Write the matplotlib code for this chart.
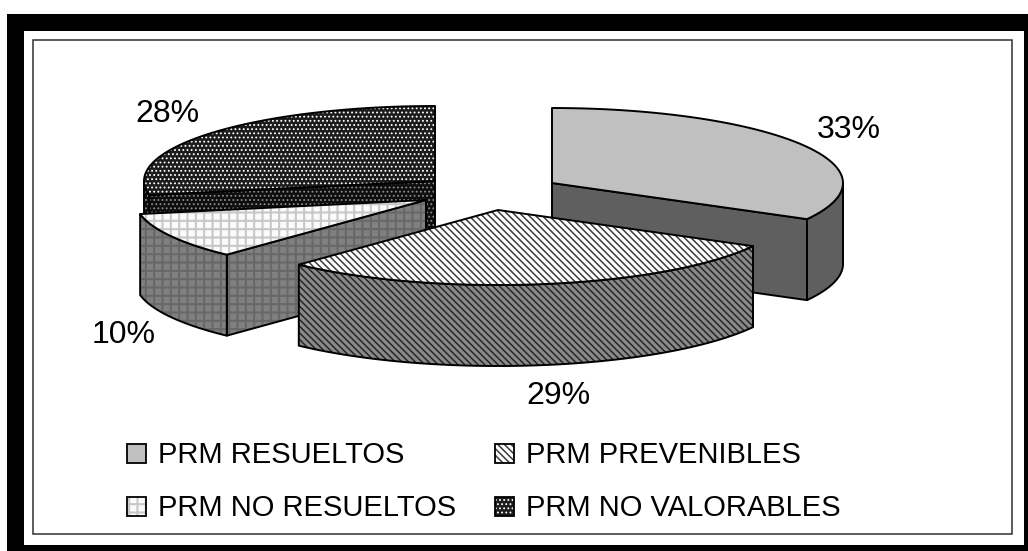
import numpy as np
import matplotlib
matplotlib.use("Agg")
from matplotlib import pyplot as plt
from matplotlib.patches import Polygon, Rectangle

categories = ["PRM RESUELTOS", "PRM PREVENIBLES", "PRM NO RESUELTOS", "PRM NO VALORABLES"]
values = [33, 29, 10, 28]

# apex of each pulled out slice, in pixels
centers = [(552, 183), (498, 210), (426, 200), (435, 181)]
label_pos = [(849, 130), (558, 396), (124, 335), (167, 114)]
legend_pos = [(127, 444), (495, 444), (127, 497), (495, 497)]

# top face and side face: fill, hatch, hatch colour, hatch line width
top_styles = [
    ("#c0c0c0", None, None, 0),
    ("#ffffff", "\\" * 5, "#3c3c3c", 1.1),
    ("#fbfbfb", "++", "#c8c8c8", 1.5),
    ("#1c1c1c", "." * 4, "#ffffff", 0.8),
]
side_styles = [
    ("#5f5f5f", None, None, 0),
    ("#8a8a8a", "\\" * 5, "#262626", 1.1),
    ("#808080", "++", "#686868", 1.5),
    ("#0e0e0e", "." * 4, "#8c8c8c", 0.8),
]
draw_order = [3, 0, 2, 1]

rx, ry, depth = 291, 75, 81

plt.rcParams['font.family'] = ['Liberation Sans', 'DejaVu Sans']

fig = plt.figure(figsize=(10.28, 5.51), dpi=100)
ax = fig.add_axes([0, 0, 1, 1])
ax.set_xlim(0, 1028)
ax.set_ylim(551, 0)
ax.axis("off")


def add_face(pts, style, z):
    face, hatch, hcol, hlw = style
    if hatch:
        plt.rcParams['hatch.linewidth'] = hlw
        ax.add_patch(Polygon(pts, closed=True, facecolor=face, edgecolor=hcol, hatch=hatch, linewidth=0, zorder=z))
    else:
        ax.add_patch(Polygon(pts, closed=True, facecolor=face, edgecolor="none", zorder=z))
    ax.add_patch(Polygon(pts, closed=True, facecolor="none", edgecolor="black", linewidth=1.4, joinstyle="round", zorder=z + 0.1))


def rim(cx, cy, a0, a1):
    a = np.radians(np.linspace(a0, a1, 60))
    return np.column_stack([cx + rx * np.sin(a), cy - ry * np.cos(a)])


# outer frame
ax.add_patch(Rectangle((7, 14), 1021, 537, facecolor="black", edgecolor="none", zorder=0))
ax.add_patch(Rectangle((24, 31), 1000, 514, facecolor="white", edgecolor="none", zorder=0.1))
ax.add_patch(Rectangle((33, 40), 979, 494, facecolor="white", edgecolor="#303030", linewidth=1.1, zorder=0.2))

# slice angles, clockwise from 12 o'clock
edges = np.cumsum([0] + values) / np.sum(values) * 360

z = 1
for i in draw_order:
    cx, cy = centers[i]
    a0, a1 = edges[i], edges[i + 1]
    down = np.array([0, depth])

    # cut faces that look towards the viewer
    for ang, normal in ((a0, a0 - 90), (a1, a1 + 90)):
        if np.cos(np.radians(normal)) < -0.01:
            p = rim(cx, cy, ang, ang)[0]
            apex = np.array([cx, cy])
            add_face([apex, p, p + down, apex + down], side_styles[i], z)
            z += 1

    # outer wall, front half only
    lo, hi = max(a0, 90), min(a1, 270)
    if lo < hi:
        arc = rim(cx, cy, lo, hi)
        add_face(np.vstack([arc, (arc + down)[::-1]]), side_styles[i], z)
        z += 1

    add_face(np.vstack([[cx, cy], rim(cx, cy, a0, a1)]), top_styles[i], z)
    z += 1

for v, (x, y) in zip(values, label_pos):
    ax.text(x, y, f"{v}%", fontsize=23, ha="center", va="center", color="black", zorder=50)

# legend
for i, (name, (x, y)) in enumerate(zip(categories, legend_pos)):
    face, hatch, hcol, hlw = top_styles[i]
    if hatch:
        plt.rcParams['hatch.linewidth'] = hlw
        ax.add_patch(Rectangle((x, y), 19, 19, facecolor=face, edgecolor=hcol, hatch=hatch, linewidth=0, zorder=50))
    else:
        ax.add_patch(Rectangle((x, y), 19, 19, facecolor=face, edgecolor="none", zorder=50))
    ax.add_patch(Rectangle((x, y), 19, 19, facecolor="none", edgecolor="black", linewidth=1.3, zorder=51))
    ax.text(x + 31, y + 11, name, fontsize=21, ha="left", va="center", color="black", zorder=50)

fig.savefig("out.png", dpi=100)
